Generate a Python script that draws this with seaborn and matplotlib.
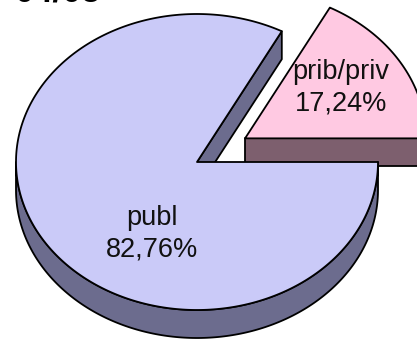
import numpy as np
import matplotlib
matplotlib.use("Agg")
import matplotlib.pyplot as plt
import seaborn as sns
from matplotlib.patches import Polygon

# Data
labels = ["prib/priv", "publ"]
shares = [17.24, 82.76]
value_labels = ["17,24%", "82,76%"]
explode = [0.31, 0.0]
top_colors = ["#FFC9E2", "#CACAF8"]
side_colors = ["#7D5F6E", "#6C6C8E"]
title = "04/05"

sns.set_theme(style="white")
plt.rcParams["font.family"] = ["Liberation Sans", "DejaVu Sans"]

fig = plt.figure(figsize=(4.17, 3.40), dpi=100)
ax = fig.add_axes([0, 0, 1, 1])
ax.set_xlim(0, 417)
ax.set_ylim(340, 0)
ax.axis("off")

# tilted pie geometry (pixel units)
cx, cy, rx, ry, depth = 197, 162, 181, 148, 28
edge_kw = dict(edgecolor="black", linewidth=1.3, joinstyle="round")


def rim(theta, ox, oy, dz=0.0):
    theta = np.atleast_1d(theta)
    return np.column_stack([ox + rx * np.cos(theta), oy - ry * np.sin(theta) + dz])


total = float(sum(shares))
bounds = np.concatenate([[0.0], np.cumsum(shares) / total * 2 * np.pi])
label_pos = {"prib/priv": (341, 88), "publ": (152, 234)}

z = 1
for i, (lab, val, txt) in enumerate(zip(labels, shares, value_labels)):
    a, b = bounds[i], bounds[i + 1]
    mid = 0.5 * (a + b)
    ox = cx + explode[i] * rx * np.cos(mid)
    oy = cy - explode[i] * ry * np.sin(mid)
    apex = np.array([[ox, oy]])

    # radial faces turned toward the viewer
    for t, visible in ((a, np.cos(a) > 1e-9), (b, np.cos(b) < -1e-9)):
        if visible:
            p = rim(t, ox, oy)
            face = np.vstack([apex, p, p + [0, depth], apex + [0, depth]])
            ax.add_patch(Polygon(face, closed=True, facecolor=side_colors[i], zorder=z, **edge_kw))
            z += 1

    # outer wall on the front half
    lo, hi = max(a, np.pi), min(b, 2 * np.pi)
    if hi > lo:
        th = np.linspace(lo, hi, 200)
        wall = np.vstack([rim(th, ox, oy), rim(th[::-1], ox, oy, depth)])
        ax.add_patch(Polygon(wall, closed=True, facecolor=side_colors[i], zorder=z, **edge_kw))
        z += 1

    # top surface
    th = np.linspace(a, b, 300)
    top = np.vstack([apex, rim(th, ox, oy)])
    ax.add_patch(Polygon(top, closed=True, facecolor=top_colors[i], zorder=z, **edge_kw))
    z += 1

    x, y = label_pos[lab]
    ax.text(x, y, f"{lab}\n{txt}", ha="center", va="center", fontsize=19.5,
            color="#111111", linespacing=1.28, zorder=50)

# chart title sits mostly above the top edge of the canvas
ax.text(15, 2, title, ha="left", va="baseline", fontsize=25, fontweight="bold",
        color="black", zorder=50)

fig.savefig("out.png", dpi=100)
